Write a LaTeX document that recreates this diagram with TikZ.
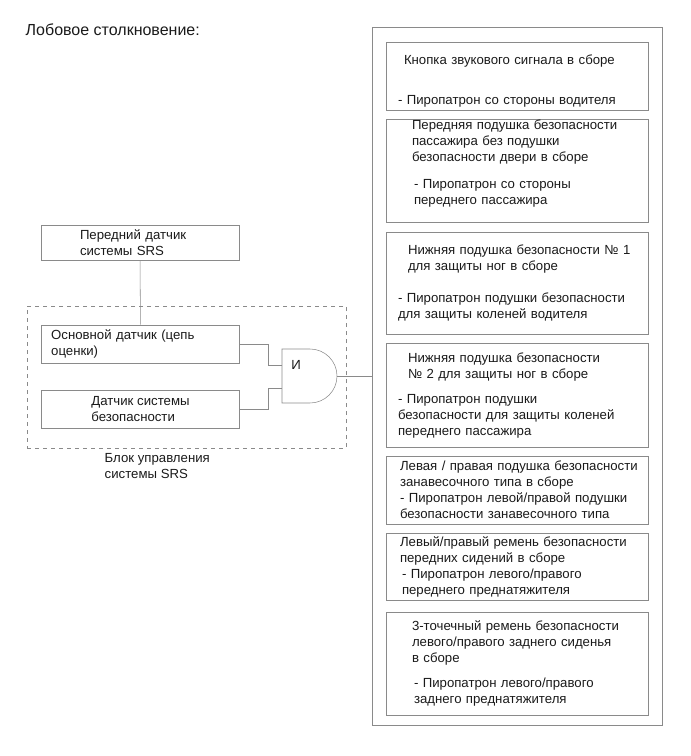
\documentclass[tikz,border=0pt]{standalone}
\usepackage{fontspec}
\setmainfont{Liberation Sans}
\usetikzlibrary{positioning}
\definecolor{frame}{HTML}{8A8A8A}
\definecolor{ink}{HTML}{1A1A1A}

\begin{document}
\begin{tikzpicture}[
  x=0.75pt,y=0.75pt,
  every node/.style={font=\fontsize{9.9}{12}\selectfont,text=ink},
  unit/.style={draw=frame,minimum width=196.5pt,inner sep=0pt,align=left,text width=187.5pt},
  sensor/.style={draw=frame,minimum width=148.5pt,align=left},
  wire/.style={draw=frame},
]
  \useasboundingbox (0,0) rectangle (690,-756);

  \node[anchor=west,font=\fontsize{12}{14}\selectfont] (title) at (21,-30) {Лобовое столкновение:};

  % control unit
  \node[draw=frame,dashed,minimum width=239.25pt,minimum height=106.5pt] (ecu) at (186.5,-377) {};
  \node[anchor=north west,align=left] (ecutxt) at (100,-449) {Блок управления\\системы SRS};

  \node[sensor,minimum height=26.25pt,text width=90pt] (fs) at (140,-242.5) {Передний датчик\\системы SRS};
  \node[sensor,minimum height=28.5pt,text width=134pt] (ms) at (140.5,-344) {Основной датчик (цепь\\оценки)};
  \node[sensor,minimum height=28.5pt] (ss) at (140.5,-409) {Датчик системы\\безопасности};

  % AND gate
  \draw[frame] (282,-349) -- (310,-349) arc (90:-90:27) -- (282,-403) -- cycle;
  \coordinate (gin1) at (282,-365);
  \coordinate (gin2) at (282,-388);
  \coordinate (gout) at (337,-376);
  \node (andlbl) at (296,-365) {И};

  % squibs
  \node[draw=frame,minimum width=217.5pt,minimum height=523.5pt] (out) at (517,-376) {};
  \node[unit,minimum height=51pt] (b1) at (517,-76) {\rule{0pt}{15pt}\hspace*{9pt}Кнопка звукового сигнала в сборе\\[17.6pt]\hspace*{4.5pt}- Пиропатрон со стороны водителя};
  \node[unit,minimum height=77.25pt,below=6.75pt of b1] (b2) {\hspace*{15pt}Передняя подушка безопасности\\\hspace*{15pt}пассажира без подушки\\\hspace*{15pt}безопасности двери в сборе\\[8pt]\hspace*{16.5pt}- Пиропатрон со стороны\\\hspace*{16.5pt}переднего пассажира\\[1pt]\mbox{}};
  \node[unit,minimum height=76.5pt,below=6.75pt of b2] (b3) {\hspace*{12pt}Нижняя подушка безопасности №~1\\\hspace*{12pt}для защиты ног в сборе\\[11.6pt]\hspace*{4.5pt}- Пиропатрон подушки безопасности\\\hspace*{4.5pt}для защиты коленей водителя};
  \node[unit,minimum height=78pt,below=6.75pt of b3] (b4) {\hspace*{12pt}Нижняя подушка безопасности\\\hspace*{12pt}№~2 для защиты ног в сборе\\[7pt]\hspace*{4.5pt}- Пиропатрон подушки\\\hspace*{4.5pt}безопасности для защиты коленей\\\hspace*{4.5pt}переднего пассажира};
  \node[unit,minimum height=51pt,below=6pt of b4] (b5) {\hspace*{6pt}Левая / правая подушка безопасности\\\hspace*{6pt}занавесочного типа в сборе\\\hspace*{6pt}- Пиропатрон левой/правой подушки\\\hspace*{6pt}безопасности занавесочного типа};
  \node[unit,minimum height=50.25pt,below=6.75pt of b5] (b6) {\hspace*{6pt}Левый/правый ремень безопасности\\\hspace*{6pt}передних сидений в сборе\\\hspace*{7.5pt}- Пиропатрон левого/правого\\\hspace*{7.5pt}переднего преднатяжителя};
  \node[unit,minimum height=77.25pt,below=8.25pt of b6] (b7) {\hspace*{15pt}3-точечный ремень безопасности\\\hspace*{15pt}левого/правого заднего сиденья\\\hspace*{15pt}в сборе\\[7pt]\hspace*{16.5pt}- Пиропатрон левого/правого\\\hspace*{16.5pt}заднего преднатяжителя};

  % connections
  \draw[wire] (fs) -- (ms);
  \draw[wire] (ms.east) -- ++(28,0) |- (gin1);
  \draw[wire] (ss.east) -- ++(28,0) |- (gin2);
  \draw[wire] (gout) -- (out.west);
\end{tikzpicture}
\end{document}
